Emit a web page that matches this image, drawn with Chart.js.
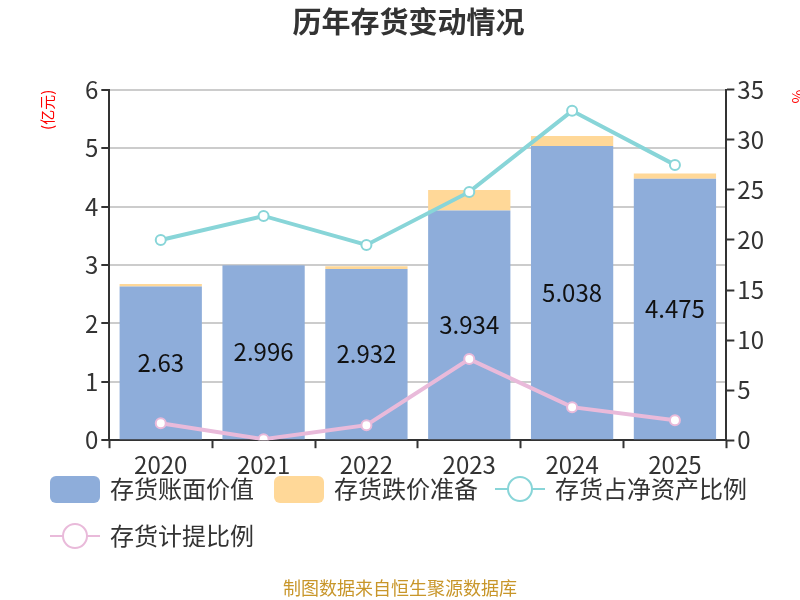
<!DOCTYPE html>
<html lang="zh-CN">
<head>
<meta charset="utf-8">
<title>历年存货变动情况</title>
<script src="https://cdn.jsdelivr.net/npm/chart.js@4.4.1/dist/chart.umd.min.js"></script>
<style>
  html, body { margin: 0; padding: 0; background: #fff; }
</style>
</head>
<body>
<canvas id="inventoryChart" width="800" height="600"></canvas>
<script>
/* 历年存货变动情况 — 柱(堆叠) + 双折线, 左轴亿元, 右轴 % */

const years = ['2020', '2021', '2022', '2023', '2024', '2025'];
const bookValue = [2.63, 2.996, 2.932, 3.934, 5.038, 4.475];       // 存货账面价值 (亿元)
const impairment = [0.045, 0.003, 0.045, 0.35, 0.17, 0.09];         // 存货跌价准备 (亿元)
const shareOfNetAssets = [20.0, 22.4, 19.5, 24.8, 32.9, 27.5];      // 存货占净资产比例 (%)
const provisionRatio = [1.7, 0.1, 1.5, 8.1, 3.3, 2.0];              // 存货计提比例 (%)
const leftTicks = [0, 1, 2, 3, 4, 5, 6];
const rightTicks = [0, 5, 10, 15, 20, 25, 30, 35];

const FONT = '"Noto Sans CJK SC", "Noto Sans", sans-serif';
const COLORS = {
  blue: '#8eadda',
  yellow: '#ffd898',
  teal: '#88d5d8',
  pink: '#e9bada',
  text: '#333333',
  axis: '#333333',
  grid: '#cccccc',
  red: '#ff0000',
  source: '#c8962a',
};

/** 柱内数值标签, 只给账面价值那一组 */
const barLabels = {
  id: 'barLabels',
  afterDatasetDraw(chart, args) {
    if (args.index !== 0) return;
    const { ctx } = chart;
    ctx.save();
    ctx.font = `24px ${FONT}`;
    ctx.fillStyle = '#111';
    ctx.textAlign = 'center';
    ctx.textBaseline = 'middle';
    args.meta.data.forEach((bar, i) => {
      const y = (bar.y + bar.base) / 2;
      ctx.fillText(String(bookValue[i]), bar.x, y);
    });
    ctx.restore();
  },
};

/** 底部图例 + 数据来源, 手工画以便控制位置 */
const bottomLegend = {
  id: 'bottomLegend',
  afterDraw(chart) {
    const { ctx } = chart;
    const items = [
      { text: '存货账面价值', kind: 'box', color: COLORS.blue, x: 50, y: 489 },
      { text: '存货跌价准备', kind: 'box', color: COLORS.yellow, x: 274, y: 489 },
      { text: '存货占净资产比例', kind: 'line', color: COLORS.teal, x: 495, y: 489 },
      { text: '存货计提比例', kind: 'line', color: COLORS.pink, x: 50, y: 536 },
    ];
    ctx.save();
    items.forEach(item => {
      if (item.kind === 'box') {
        ctx.fillStyle = item.color;
        ctx.beginPath();
        ctx.roundRect(item.x, item.y - 13, 50, 27, 6);
        ctx.fill();
      } else {
        ctx.strokeStyle = item.color;
        ctx.lineWidth = 2;
        ctx.beginPath();
        ctx.moveTo(item.x, item.y);
        ctx.lineTo(item.x + 50, item.y);
        ctx.stroke();
        ctx.beginPath();
        ctx.arc(item.x + 25, item.y, 12, 0, Math.PI * 2);
        ctx.fillStyle = '#fff';
        ctx.fill();
        ctx.stroke();
      }
      ctx.font = `24px ${FONT}`;
      ctx.fillStyle = COLORS.text;
      ctx.textAlign = 'left';
      ctx.textBaseline = 'middle';
      ctx.fillText(item.text, item.x + 60, item.y);
    });

    ctx.font = `18px ${FONT}`;
    ctx.fillStyle = COLORS.source;
    ctx.textAlign = 'center';
    ctx.fillText('制图数据来自恒生聚源数据库', 400, 588);
    ctx.restore();
  },
};

const tickFont = { family: FONT, size: 24 };

new Chart(document.getElementById('inventoryChart'), {
  type: 'bar',
  data: {
    labels: years,
    datasets: [
      {
        label: '存货账面价值',
        data: bookValue,
        backgroundColor: COLORS.blue,
        yAxisID: 'y',
        stack: 'inv',
        order: 2,
        categoryPercentage: 1,
        barPercentage: 0.8,
      },
      {
        label: '存货跌价准备',
        data: impairment,
        backgroundColor: COLORS.yellow,
        yAxisID: 'y',
        stack: 'inv',
        order: 2,
        categoryPercentage: 1,
        barPercentage: 0.8,
      },
      {
        type: 'line',
        label: '存货占净资产比例',
        data: shareOfNetAssets,
        yAxisID: 'y1',
        borderColor: COLORS.teal,
        borderWidth: 4,
        pointRadius: 5,
        pointBorderWidth: 2,
        pointBackgroundColor: '#fff',
        pointBorderColor: COLORS.teal,
        order: 1,
      },
      {
        type: 'line',
        label: '存货计提比例',
        data: provisionRatio,
        yAxisID: 'y1',
        borderColor: COLORS.pink,
        borderWidth: 4,
        pointRadius: 5,
        pointBorderWidth: 2,
        pointBackgroundColor: '#fff',
        pointBorderColor: COLORS.pink,
        order: 0,
      },
    ],
  },
  options: {
    responsive: false,
    animation: false,
    layout: { padding: { left: 10, right: -7, top: 0, bottom: 119 } },
    plugins: {
      legend: { display: false },
      tooltip: { enabled: false },
      title: {
        display: true,
        text: '历年存货变动情况',
        color: COLORS.text,
        font: { family: FONT, size: 29, weight: 'bold' },
        padding: { top: 5, bottom: 50 },
      },
    },
    scales: {
      x: {
        stacked: true,
        offset: true,
        grid: {
          offset: true,
          drawOnChartArea: false,
          tickLength: 8,
          tickColor: COLORS.axis,
          tickWidth: 2,
        },
        border: { color: COLORS.axis, width: 2 },
        ticks: { color: COLORS.text, font: tickFont, padding: 2, maxRotation: 0 },
      },
      y: {
        position: 'left',
        stacked: true,
        min: 0,
        max: 6,
        afterBuildTicks(scale) { scale.ticks = leftTicks.map(v => ({ value: v })); },
        grid: { color: COLORS.grid, lineWidth: 2, tickLength: 8, tickColor: COLORS.axis, tickWidth: 2 },
        border: { color: COLORS.axis, width: 2 },
        ticks: { color: COLORS.text, font: tickFont, padding: 3 },
        title: {
          display: true,
          text: '(亿元)',
          align: 'end',
          color: COLORS.red,
          font: { family: FONT, size: 15 },
          padding: { top: 28, bottom: 26 },
        },
      },
      y1: {
        position: 'right',
        min: 0,
        max: 35,
        afterBuildTicks(scale) { scale.ticks = rightTicks.map(v => ({ value: v })); },
        grid: { drawOnChartArea: false, tickLength: 8, tickColor: COLORS.axis, tickWidth: 2 },
        border: { color: COLORS.axis, width: 2 },
        ticks: { color: COLORS.text, font: tickFont, padding: 3 },
        title: {
          display: true,
          text: '%',
          align: 'end',
          color: COLORS.red,
          font: { family: FONT, size: 15 },
          padding: { top: 0, bottom: 22 },
        },
      },
    },
  },
  plugins: [barLabels, bottomLegend],
});
</script>
</body>
</html>
